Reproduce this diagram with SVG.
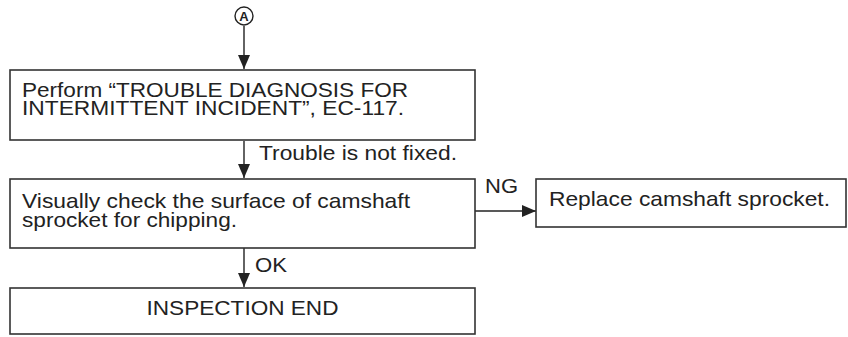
<svg xmlns="http://www.w3.org/2000/svg" width="848" height="337" viewBox="0 0 848 337">
<style>
  .box { fill: #fff; stroke: #333; stroke-width: 1.6; }
  .t { font-family: "Liberation Sans", Arial, sans-serif; font-size: 21px; fill: #222; }
  .ln { stroke: #222; stroke-width: 1.4; fill: none; }
</style>
<defs>
  <marker id="ah" markerWidth="14" markerHeight="12" refX="14" refY="6" orient="auto" markerUnits="userSpaceOnUse">
    <path d="M0,0 L14,6 L0,12 Z" fill="#222"/>
  </marker>
</defs>
<rect width="848" height="337" fill="#fff"/>
<g id="connectors">
  <line class="ln" x1="244" y1="26" x2="244" y2="69" marker-end="url(#ah)"/>
  <line class="ln" x1="244" y1="141" x2="244" y2="178" marker-end="url(#ah)"/>
  <text class="t" x="259" y="160" textLength="198" lengthAdjust="spacingAndGlyphs">Trouble is not fixed.</text>
  <line class="ln" x1="475" y1="211" x2="536" y2="211" marker-end="url(#ah)"/>
  <text class="t" x="485" y="193" textLength="33" lengthAdjust="spacingAndGlyphs">NG</text>
  <line class="ln" x1="244" y1="248" x2="244" y2="287" marker-end="url(#ah)"/>
  <text class="t" x="255" y="272" textLength="32" lengthAdjust="spacingAndGlyphs">OK</text>
</g>
<g id="nodeA">
  <circle cx="244" cy="16" r="9" fill="#fff" stroke="#222" stroke-width="1.4"/>
  <text x="244" y="21" text-anchor="middle" font-family="Liberation Sans, Arial, sans-serif" font-size="13" font-weight="bold" fill="#222">A</text>
</g>
<g id="node1">
  <rect class="box" x="10" y="70" width="465" height="70"/>
  <text class="t" x="22" y="97" textLength="386" lengthAdjust="spacingAndGlyphs">Perform “TROUBLE DIAGNOSIS FOR</text>
  <text class="t" x="22" y="115" textLength="382" lengthAdjust="spacingAndGlyphs">INTERMITTENT INCIDENT”, EC-117.</text>
</g>
<g id="node2">
  <rect class="box" x="10" y="179" width="465" height="69"/>
  <text class="t" x="22" y="208" textLength="388" lengthAdjust="spacingAndGlyphs">Visually check the surface of camshaft</text>
  <text class="t" x="22" y="227" textLength="215" lengthAdjust="spacingAndGlyphs">sprocket for chipping.</text>
</g>
<g id="node3">
  <rect class="box" x="536" y="179" width="310" height="48"/>
  <text class="t" x="549" y="206" textLength="281" lengthAdjust="spacingAndGlyphs">Replace camshaft sprocket.</text>
</g>
<g id="node4">
  <rect class="box" x="10" y="288" width="465" height="46"/>
  <text class="t" x="146.5" y="315" textLength="192" lengthAdjust="spacingAndGlyphs">INSPECTION END</text>
</g>
</svg>
